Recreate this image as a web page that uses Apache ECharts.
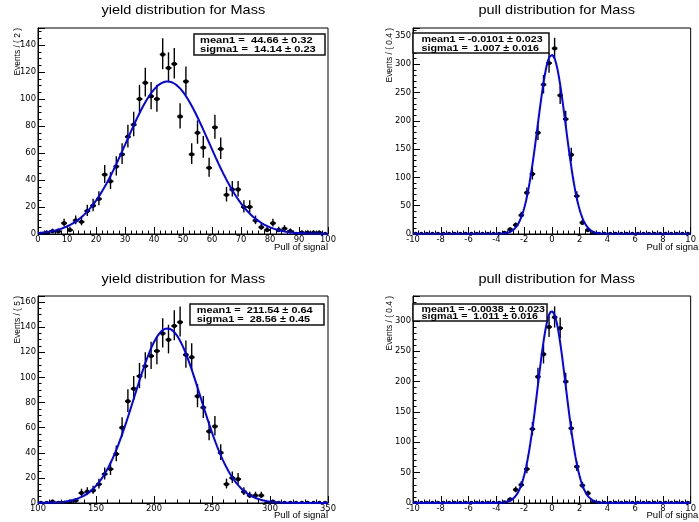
<!DOCTYPE html>
<html><head><meta charset="utf-8">
<script src="https://cdn.jsdelivr.net/npm/echarts@6/dist/echarts.min.js"></script>
<style>html,body{margin:0;padding:0;background:#fff}#c{width:699px;height:522px}</style>
</head><body><div id="c"></div>
<script>
// ---------------- data ----------------
const yield1Centers = [1,3,5,7,9,11,13,15,17,19,21,23,25,27,29,31,33,35,37,39,41,43,45,47,49,51,53,55,57,59,61,63,65,67,69,71,73,75,77,79,81,83,85,87,89,91,93,95,97,99];
const yield1Counts  = [0,1,2,2,8,3,10,9,17,21, 26,44,39,50,59,72,81,100,112,102, 100,133,123,126,87,113,59,75,64,49, 79,63,29,33,33,20,20,10,5,3, 8,3,4,2,0,1,1,1,1,0];
const yield2Centers = [102.5,107.5,112.5,117.5,122.5,127.5,132.5,137.5,142.5,147.5,152.5,157.5,162.5,167.5,172.5,177.5,182.5,187.5,192.5,197.5,202.5,207.5,212.5,217.5,222.5,227.5,232.5,237.5,242.5,247.5,252.5,257.5,262.5,267.5,272.5,277.5,282.5,287.5,292.5,297.5,302.5,307.5,312.5,317.5,322.5,327.5,332.5,337.5,342.5,347.5];
const yield2Counts  = [0,0,1,0,0,1,2,8,9,10, 15,23,27,39,60,81,91,101,109,117, 121,135,130,141,144,118,116,85,76,57, 61,40,15,20,19,9,6,6,6,0, 1,0,0,0,0,0,0,0,0,0];
const pullCenters = [-9.8,-9.4,-9.0,-8.6,-8.2,-7.8,-7.4,-7.0,-6.6,-6.2,-5.8,-5.4,-5.0,-4.6,-4.2,-3.8,-3.4,-3.0,-2.6,-2.2,-1.8,-1.4,-1.0,-0.6,-0.2,0.2,0.6,1.0,1.4,1.8,2.2,2.6,3.0,3.4,3.8,4.2,4.6,5.0,5.4,5.8,6.2,6.6,7.0,7.4,7.8,8.2,8.6,9.0,9.4,9.8];
const pull1Counts = [0,0,0,0,0,0,0,0,0,0,0,0,0,0,0,0, 2,8,16,33,73,106,179,264,302,328,245,203,140,67,20,7,1, 0,0,0,0,0,0,0,0,0,0,0,0,0,0,0,0,0];
const pull2Counts = [0,0,0,0,0,0,0,0,0,0,0,0,0,0,0,0, 1,6,22,30,56,122,208,245,290,306,288,200,123,60,29,16,1, 0,0,0,0,0,0,0,0,0,0,0,0,0,0,0,0,0];

const fitMean  = [44.66, -0.0101, 211.54, -0.0038];
const fitSigma = [14.14, 1.007, 28.56, 1.011];
const fitPeak  = [113, 317, 139, 316];

const panelTitles = ['yield distribution for Mass', 'pull distribution for Mass', 'yield distribution for Mass', 'pull distribution for Mass'];
const yTitles = ['Events / ( 2 )', 'Events / ( 0.4 )', 'Events / ( 5 )', 'Events / ( 0.4 )'];
const xTitle = 'Pull of signal';
const statLines = [
  ['mean1 =  44.66 \u00b1 0.32', 'sigma1 =  14.14 \u00b1 0.23'],
  ['mean1 = -0.0101 \u00b1 0.023', 'sigma1 =  1.007 \u00b1 0.016'],
  ['mean1 =  211.54 \u00b1 0.64', 'sigma1 =  28.56 \u00b1 0.45'],
  ['mean1 = -0.0038  \u00b1 0.023', 'sigma1 =  1.011 \u00b1 0.016']
];
const xRanges = [[0,100,10],[-10,10,2],[100,350,50],[-10,10,2]];
const yRanges = [[0,152.6,20,5],[0,364,50,10],[0,164.8,20,5],[0,341,50,10]];
const binHalf = [1,0.2,2.5,0.2];
const centersList = [yield1Centers, pullCenters, yield2Centers, pullCenters];
const countsList = [yield1Counts, pull1Counts, yield2Counts, pull2Counts];

// ---------------- layout ----------------
const grids = [
  {left:38, right:371, top:28, bottom:288},
  {left:413, right:-1.5, top:28, bottom:288},
  {left:38, right:371, top:296, bottom:19},
  {left:413, right:-1.5, top:296, bottom:19}
].map(g => Object.assign(g, {show:true, borderColor:'#000', borderWidth:1, backgroundColor:'#fff', containLabel:false}));

const labelFont = {fontFamily:'DejaVu Sans', fontSize:8.4, color:'#000'};
const xAxes = xRanges.map((r,i)=>({
  type:'value', gridIndex:i, min:r[0], max:r[1], interval:r[2],
  axisLine:{show:true, onZero:false, lineStyle:{color:'#000', width:1}},
  axisTick:{show:true, inside:true, length:7, lineStyle:{color:'#000', width:1}},
  minorTick:{show:true, splitNumber:5, length:3.5, lineStyle:{color:'#000', width:1}},
  splitLine:{show:false}, minorSplitLine:{show:false},
  axisLabel:Object.assign({margin:2}, labelFont)
}));
const yMain = yRanges.map((r,i)=>({
  type:'value', gridIndex:i, min:r[0], max:r[1], interval:r[2], position:'left',
  axisLine:{show:true, onZero:false, lineStyle:{color:'#000', width:1}},
  axisTick:{show:true, inside:true, length:7, lineStyle:{color:'#000', width:1}},
  splitLine:{show:false},
  axisLabel:Object.assign({margin:2, formatter:function(v){
    const k = v / r[2]; return Math.abs(k - Math.round(k)) < 1e-6 ? String(Math.round(v)) : '';
  }}, labelFont)
}));
const yMinor = yRanges.map((r,i)=>({
  type:'value', gridIndex:i, min:r[0], max:r[1], interval:r[3], position:'left', offset:0,
  axisLine:{show:false, onZero:false},
  axisTick:{show:true, inside:true, length:3.5, lineStyle:{color:'#000', width:1}},
  splitLine:{show:false}, axisLabel:{show:false}
}));

function errSeries(i){
  const data = centersList[i].map((c,k)=>[c, countsList[i][k]]);
  const hw = binHalf[i];
  return {
    type:'custom', xAxisIndex:i, yAxisIndex:i, data:data, clip:true, z:3,
    renderItem:function(params, api){
      const x = api.value(0), y = api.value(1);
      const s = Math.sqrt(y + 0.25);
      const lo = y > 0 ? s - 0.5 : 0;
      const hi = y > 0 ? s + 0.5 : 1.15;
      const p = api.coord([x, y]);
      const pl = api.coord([x - hw, y]);
      const pr = api.coord([x + hw, y]);
      const pt = api.coord([x, y + hi]);
      const pb = api.coord([x, y - lo]);
      return {type:'group', children:[
        {type:'line', shape:{x1:pl[0], y1:p[1], x2:pr[0], y2:p[1]}, style:{stroke:'#000', lineWidth:2}},
        {type:'line', shape:{x1:p[0], y1:pt[1], x2:p[0], y2:pb[1]}, style:{stroke:'#000', lineWidth:1.4}},
        {type:'circle', shape:{cx:p[0], cy:p[1], r:2.2}, style:{fill:'#000'}}
      ]};
    }
  };
}
function fitSeries(i){
  const r = xRanges[i], n = 400, pts = [];
  for (let k = 0; k <= n; k++) {
    const x = r[0] + (r[1]-r[0]) * k / n;
    const d = (x - fitMean[i]) / fitSigma[i];
    pts.push([x, fitPeak[i] * Math.exp(-0.5 * d * d)]);
  }
  return {type:'line', xAxisIndex:i, yAxisIndex:i, data:pts, showSymbol:false, symbol:'none', clip:true, z:4,
    lineStyle:{color:'#0000ff', width:2}, silent:true};
}

const series = [];
for (let i = 0; i < 4; i++) { series.push(errSeries(i)); series.push(fitSeries(i)); }

// graphics: titles, axis titles, stat boxes
const titlePos = [[183.3,11],[556.7,11],[183.3,279.5],[556.7,279.5]];
const yTitlePos = [[17.5,28],[389,28],[17.5,296],[389,296]];
const xTitlePos = [[328,247.5],[700.5,247.5],[328,515.5],[700.5,515.5]];
const boxRect = [[194,34,131,21],[413,33,136,20],[190,304,134,21],[413,304,134,17]];
const boxText = [[200,40.3,49.5,1.235],[421.5,40,49,1.19],[196.7,310.5,319.7,1.21],[421.5,309.6,316.6,1.185]];

const graphic = [];
for (let i = 0; i < 4; i++) {
  graphic.push({type:'text', x:titlePos[i][0], y:titlePos[i][1], scaleX:1.225, z:100,
    style:{text:panelTitles[i], fontFamily:'Liberation Sans', fontSize:11.85, fill:'#000', align:'center', verticalAlign:'middle'}});
  graphic.push({type:'text', x:yTitlePos[i][0], y:yTitlePos[i][1], rotation:Math.PI/2, scaleY:1.15, z:100,
    style:{text:yTitles[i], fontFamily:'Liberation Sans', fontSize:8.4, fill:'#000', align:'right', verticalAlign:'middle'}});
  graphic.push({type:'text', x:xTitlePos[i][0], y:xTitlePos[i][1], scaleX:1.12, z:100,
    style:{text:xTitle, fontFamily:'Liberation Sans', fontSize:8.5, fill:'#000', align:'right', verticalAlign:'middle'}});
  const b = boxRect[i];
  graphic.push({type:'rect', z:100, shape:{x:b[0], y:b[1], width:b[2], height:b[3]},
    style:{fill:'#fff', stroke:'#111', lineWidth:1.5}});
  const t = boxText[i];
  graphic.push({type:'text', x:t[0], y:t[1], scaleX:t[3], z:101,
    style:{text:statLines[i][0], fontFamily:'Liberation Sans', fontWeight:'bold', fontSize:9, fill:'#000', align:'left', verticalAlign:'middle'}});
  graphic.push({type:'text', x:t[0], y:t[2], scaleX:t[3], z:101,
    style:{text:statLines[i][1], fontFamily:'Liberation Sans', fontWeight:'bold', fontSize:9, fill:'#000', align:'left', verticalAlign:'middle'}});
}

const chart = echarts.init(document.getElementById('c'), null, {renderer:'canvas'});
chart.setOption({
  animation:false,
  backgroundColor:'#fff',
  grid:grids,
  xAxis:xAxes,
  yAxis:yMain.concat(yMinor),
  series:series,
  graphic:graphic
});
</script></body></html>
